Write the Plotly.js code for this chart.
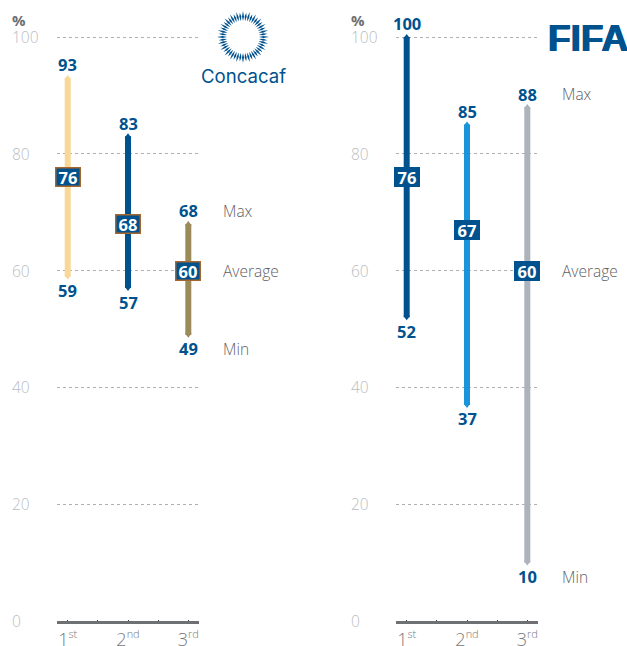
<!DOCTYPE html>
<html><head><meta charset="utf-8">
<script src="https://cdn.plot.ly/plotly-3.0.1.min.js"></script>
<style>html,body{margin:0;padding:0;background:#fff}#c{width:627px;height:646px}</style>
</head><body><div id="c"></div>
<script>
const ranks = [0, 1, 2];
const rankLabels = ['1<sup><span style="font-size:11px">st</span></sup>', '2<sup><span style="font-size:11px">nd</span></sup>', '3<sup><span style="font-size:11px">rd</span></sup>'];
const yTicks = [0, 20, 40, 60, 80, 100];
const concacafMax = [93, 83, 68];
const concacafAvg = [76, 68, 60];
const concacafMin = [59, 57, 49];
const fifaMax = [100, 85, 88];
const fifaAvg = [76, 67, 60];
const fifaMin = [52, 37, 10];
const concacafColors = ['#f7d897', '#00528f', '#9c8b5a'];
const fifaColors = ['#00528f', '#1b94d9', '#adb3bb'];

const W = 627, H = 646, BLUE = '#00528f';
const px = x => x / W, py = y => 1 - y / H;
const UP = 13, DOWN = -14;

function panel(xa, maxs, avgs, mins, colors, border) {
  const traces = [], ann = [];
  ranks.forEach(i => {
    traces.push({type: 'scatter', mode: 'lines+markers', xaxis: xa, yaxis: 'y',
      x: [i, i], y: [mins[i], maxs[i]], hoverinfo: 'skip', showlegend: false,
      line: {color: colors[i], width: 6},
      marker: {color: colors[i], size: 6, symbol: ['triangle-down', 'triangle-up']}});
    ann.push({xref: xa, yref: 'y', x: i, y: maxs[i], yshift: UP, text: '<b>' + maxs[i] + '</b>',
      showarrow: false, font: {family: 'Open Sans', size: 16.5, color: BLUE}});
    ann.push({xref: xa, yref: 'y', x: i, y: mins[i], yshift: DOWN, text: '<b>' + mins[i] + '</b>',
      showarrow: false, font: {family: 'Open Sans', size: 16.5, color: BLUE}});
    ann.push({xref: xa, yref: 'y', x: i, y: avgs[i], text: '<b>' + avgs[i] + '</b>', showarrow: false,
      bgcolor: BLUE, bordercolor: border, borderwidth: 1.5, borderpad: 0, width: 23, height: 17,
      font: {family: 'Open Sans', size: 16.5, color: '#fff'}});
  });
  return {traces, ann};
}
const a = panel('x', concacafMax, concacafAvg, concacafMin, concacafColors, '#a5672f');
const b = panel('x2', fifaMax, fifaAvg, fifaMin, fifaColors, BLUE);

const side = (xp, txt, v, shift) => ({xref: 'paper', yref: 'y', x: px(xp), y: v, yshift: shift, xanchor: 'left', text: txt,
  showarrow: false, font: {family: 'Open Sans', size: 15.5, weight: 300, color: '#5f6063'}});
const notes = [...a.ann, ...b.ann,
  side(221, 'Max', concacafMax[2], UP), side(221, 'Average', concacafAvg[2], 0), side(221, 'Min', concacafMin[2], DOWN),
  side(560, 'Max', fifaMax[2], UP), side(560, 'Average', fifaAvg[2], 0), side(560, 'Min', fifaMin[2], DOWN)];
[12, 351].forEach(xp => {
  yTicks.forEach(t => notes.push({xref: 'paper', yref: 'y', x: px(xp - 2), y: t, xanchor: 'left', text: String(t),
    showarrow: false, font: {family: 'Open Sans', size: 15.5, weight: 300, color: '#b9bdc2'}}));
  notes.push({xref: 'paper', yref: 'paper', x: px(xp - 2), y: py(20), xanchor: 'left', yanchor: 'middle', text: '<b>%</b>',
    showarrow: false, font: {family: 'Open Sans', size: 15, color: '#6d6e71'}});
});
notes.push({xref: 'paper', yref: 'paper', x: px(243.5), y: py(76), yanchor: 'middle', text: 'Concacaf', showarrow: false,
  font: {family: 'Inter', size: 18.6, color: BLUE}});
notes.push({xref: 'paper', yref: 'paper', x: px(546), y: py(38), xanchor: 'left', yanchor: 'middle', text: '<b>FIFA</b>', showarrow: false,
  font: {family: 'Liberation Sans', size: 37, color: BLUE, shadow: '0.7px 0 0 #00528f, -0.7px 0 0 #00528f'}});

// Concacaf sunburst emblem
let burst = '';
const cx = 243, cy = 37, n = 48;
for (let k = 0; k < n; k++) {
  const t = 2 * Math.PI * k / n, long = k % 2 === 0;
  const r0 = 16, r1 = long ? 26 : 24.5, rm = 20.5, hw = 0.05;
  const p = (r, ang) => px(cx + r * Math.cos(ang)) + ',' + py(cy + r * Math.sin(ang));
  burst += 'M' + p(r0, t) + 'L' + p(rm, t - hw) + 'L' + p(r1, t) + 'L' + p(rm, t + hw) + 'Z';
}
const axisX = (l, r, anchor) => ({domain: [px(l), px(r)], anchor, range: [-10.7 / 60.3, 2 + 10.7 / 60.3],
  tickmode: 'array', tickvals: ranks, ticktext: rankLabels, ticks: 'inside', ticklen: 1, tickwidth: 1, tickcolor: '#333',
  minor: {dtick: 0.5, ticks: 'inside', ticklen: 1, tickwidth: 1, tickcolor: '#333'},
  showline: true, linecolor: '#6f7074', linewidth: 3, showgrid: false, zeroline: false,
  tickfont: {family: 'Open Sans', size: 18, weight: 300, color: '#77797c'}, fixedrange: true});

Plotly.newPlot('c', [...a.traces, ...b.traces], {
  width: W, height: H, margin: {l: 0, r: 0, t: 0, b: 0}, paper_bgcolor: '#fff', plot_bgcolor: '#fff',
  showlegend: false,
  xaxis: axisX(57, 199, 'y'),
  xaxis2: axisX(396, 538, 'y'),
  // one extra unit of room above 100 keeps the 100 gridline from being dropped at the axis end
  yaxis: {domain: [py(621), py(37 - 5.84)], range: [0, 101], tickvals: yTicks, showticklabels: false, ticks: '',
    showgrid: true, gridcolor: '#b0b0b0', griddash: '3px 3px', gridwidth: 1, zeroline: false, showline: false, fixedrange: true},
  annotations: notes,
  shapes: [{type: 'path', xref: 'paper', yref: 'paper', path: burst, fillcolor: BLUE, line: {width: 0}}]
}, {displayModeBar: false, staticPlot: true});
</script></body></html>
